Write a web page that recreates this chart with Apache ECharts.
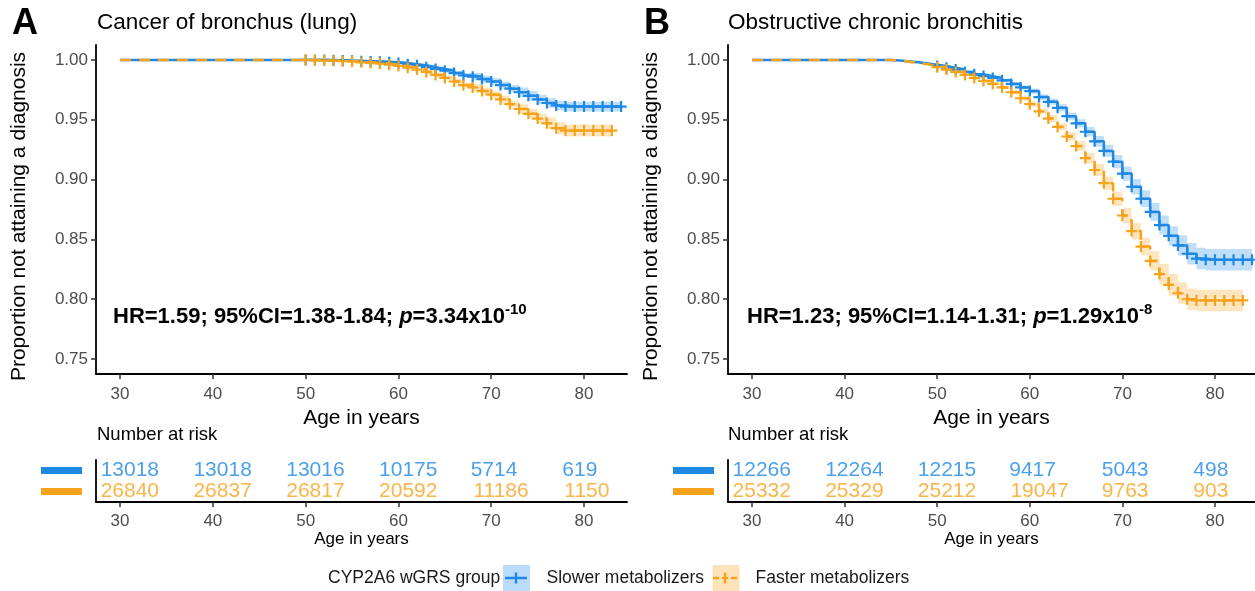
<!DOCTYPE html>
<html>
<head>
<meta charset="utf-8">
<script src="https://cdn.jsdelivr.net/npm/echarts@6/dist/echarts.min.js"></script>
<style>
  html, body { margin: 0; padding: 0; background: #fff; }
  #chart { width: 1255px; height: 591px; }
</style>
</head>
<body>
<div id="chart"></div>
<script>
// ---- data ----
const riskAges = [30, 40, 50, 60, 70, 80];
const riskSlowA = [13018, 13018, 13016, 10175, 5714, 619];
const riskFastA = [26840, 26837, 26817, 20592, 11186, 1150];
const riskSlowB = [12266, 12264, 12215, 9417, 5043, 498];
const riskFastB = [25332, 25329, 25212, 19047, 9763, 903];

// panel A: cancer of bronchus (lung)
const ageSlowA = [30, 50, 51, 52, 53, 54, 55, 56, 57, 58, 59, 60, 61, 62, 63, 64, 65, 66, 67, 68, 69, 70, 71, 72, 73, 74, 75, 76, 77, 78, 79, 80, 81, 82, 83, 84];
const survSlowA = [1, 1, 1, 1, 0.9998, 0.9995, 0.9993, 0.999, 0.9987, 0.9984, 0.998, 0.9975, 0.9965, 0.9955, 0.994, 0.9925, 0.991, 0.989, 0.987, 0.986, 0.984, 0.982, 0.979, 0.976, 0.973, 0.970, 0.967, 0.964, 0.962, 0.961, 0.961, 0.961, 0.961, 0.961, 0.961, 0.961];
const loSlowA = [1, 0.9997, 0.9997, 0.9997, 0.9995, 0.9992, 0.999, 0.9987, 0.9984, 0.9974, 0.997, 0.9965, 0.9955, 0.9945, 0.992, 0.9905, 0.989, 0.987, 0.985, 0.983, 0.981, 0.979, 0.976, 0.973, 0.969, 0.966, 0.963, 0.960, 0.958, 0.957, 0.957, 0.957, 0.957, 0.957, 0.957, 0.957];
const hiSlowA = [1, 1, 1, 1, 1, 0.9998, 0.9996, 0.9993, 0.999, 0.9994, 0.999, 0.9985, 0.9975, 0.9965, 0.996, 0.9945, 0.993, 0.991, 0.989, 0.989, 0.987, 0.985, 0.982, 0.979, 0.977, 0.974, 0.971, 0.968, 0.966, 0.965, 0.965, 0.965, 0.965, 0.965, 0.965, 0.965];

const ageFastA = [30, 50, 51, 52, 53, 54, 55, 56, 57, 58, 59, 60, 61, 62, 63, 64, 65, 66, 67, 68, 69, 70, 71, 72, 73, 74, 75, 76, 77, 78, 79, 80, 81, 82, 83];
const survFastA = [1, 1, 0.9998, 0.9995, 0.9993, 0.999, 0.9987, 0.998, 0.9975, 0.997, 0.996, 0.995, 0.9935, 0.992, 0.990, 0.9875, 0.985, 0.982, 0.979, 0.977, 0.974, 0.971, 0.967, 0.963, 0.959, 0.955, 0.951, 0.947, 0.943, 0.941, 0.941, 0.941, 0.941, 0.941, 0.941];
const loFastA = [1, 0.9997, 0.9995, 0.9992, 0.999, 0.9987, 0.9984, 0.9977, 0.9972, 0.996, 0.995, 0.994, 0.9925, 0.991, 0.988, 0.9855, 0.983, 0.980, 0.977, 0.974, 0.971, 0.968, 0.964, 0.960, 0.955, 0.951, 0.947, 0.942, 0.938, 0.936, 0.936, 0.936, 0.936, 0.936, 0.936];
const hiFastA = [1, 1, 1, 0.9998, 0.9996, 0.9993, 0.999, 0.9983, 0.9978, 0.998, 0.997, 0.996, 0.9945, 0.993, 0.992, 0.9895, 0.987, 0.984, 0.981, 0.980, 0.977, 0.974, 0.970, 0.966, 0.963, 0.959, 0.955, 0.952, 0.948, 0.946, 0.946, 0.946, 0.946, 0.946, 0.946];

// panel B: obstructive chronic bronchitis
const ageSlowB = [30, 44, 45, 46, 47, 48, 49, 50, 51, 52, 53, 54, 55, 56, 57, 58, 59, 60, 61, 62, 63, 64, 65, 66, 67, 68, 69, 70, 71, 72, 73, 74, 75, 76, 77, 78, 79, 80, 81, 82, 83, 84];
const survSlowB = [1, 1, 0.9995, 0.9988, 0.998, 0.997, 0.996, 0.995, 0.9935, 0.992, 0.990, 0.988, 0.9865, 0.985, 0.983, 0.980, 0.977, 0.974, 0.969, 0.965, 0.960, 0.953, 0.947, 0.940, 0.932, 0.924, 0.915, 0.905, 0.894, 0.884, 0.873, 0.862, 0.853, 0.845, 0.838, 0.834, 0.833, 0.833, 0.833, 0.833, 0.833, 0.833];
const loSlowB = [1, 1, 0.9993, 0.9985, 0.9977, 0.9966, 0.9955, 0.9945, 0.993, 0.9913, 0.9892, 0.9871, 0.9855, 0.9838, 0.9817, 0.9785, 0.9753, 0.972, 0.9668, 0.9625, 0.957, 0.950, 0.9435, 0.936, 0.9275, 0.919, 0.9095, 0.899, 0.8875, 0.877, 0.8655, 0.854, 0.845, 0.8365, 0.829, 0.825, 0.824, 0.824, 0.824, 0.824, 0.824, 0.824];
const hiSlowB = [1, 1, 0.9997, 0.9991, 0.9983, 0.9974, 0.9965, 0.9955, 0.994, 0.9927, 0.9908, 0.9889, 0.9875, 0.9862, 0.9843, 0.9815, 0.9787, 0.976, 0.9712, 0.9675, 0.963, 0.956, 0.9505, 0.944, 0.9365, 0.929, 0.9205, 0.911, 0.9005, 0.891, 0.8805, 0.870, 0.861, 0.8535, 0.847, 0.843, 0.842, 0.842, 0.842, 0.842, 0.842, 0.842];

const ageFastB = [30, 44, 45, 46, 47, 48, 49, 50, 51, 52, 53, 54, 55, 56, 57, 58, 59, 60, 61, 62, 63, 64, 65, 66, 67, 68, 69, 70, 71, 72, 73, 74, 75, 76, 77, 78, 79, 80, 81, 82, 83];
const survFastB = [1, 1, 0.9995, 0.9985, 0.9975, 0.9965, 0.995, 0.994, 0.992, 0.990, 0.9875, 0.985, 0.9825, 0.980, 0.977, 0.973, 0.968, 0.963, 0.957, 0.951, 0.944, 0.936, 0.928, 0.918, 0.908, 0.897, 0.884, 0.870, 0.857, 0.844, 0.832, 0.821, 0.812, 0.805, 0.800, 0.799, 0.799, 0.799, 0.799, 0.799, 0.799];
const loFastB = [1, 1, 0.9993, 0.9982, 0.9971, 0.996, 0.9945, 0.9934, 0.9913, 0.9892, 0.9866, 0.984, 0.9814, 0.9787, 0.9755, 0.9713, 0.966, 0.9608, 0.9545, 0.948, 0.941, 0.9325, 0.924, 0.9135, 0.903, 0.8915, 0.878, 0.8635, 0.850, 0.8365, 0.824, 0.8125, 0.803, 0.796, 0.791, 0.790, 0.790, 0.790, 0.790, 0.790, 0.790];
const hiFastB = [1, 1, 0.9997, 0.9988, 0.9979, 0.997, 0.9955, 0.9946, 0.9927, 0.9908, 0.9884, 0.986, 0.9836, 0.9813, 0.9785, 0.9747, 0.970, 0.9652, 0.9595, 0.954, 0.947, 0.9395, 0.932, 0.9225, 0.913, 0.9025, 0.890, 0.8765, 0.864, 0.8515, 0.840, 0.8295, 0.821, 0.814, 0.809, 0.808, 0.808, 0.808, 0.808, 0.808, 0.808];

const xTicks = [30, 40, 50, 60, 70, 80];
const yTicks = [0.75, 0.80, 0.85, 0.90, 0.95, 1.00];

// ---- styling ----
const BLUE = '#1E88E5';
const ORANGE = '#F7A21B';
const BLUE_BAND = 'rgba(30,136,229,0.28)';
const ORANGE_BAND = 'rgba(247,162,27,0.28)';
const FONT = 'Liberation Sans, Arial, sans-serif';
const PLUS = 'path://M4,0H6V4H10V6H6V10H4V6H0V4H4Z';

const chart = echarts.init(document.getElementById('chart'), null, { renderer: 'canvas' });

function mainXAxis(gi, max) {
  return {
    gridIndex: gi, type: 'value', min: 27.41, max: max,
    name: 'Age in years', nameLocation: 'middle', nameGap: 26,
    nameTextStyle: { fontSize: 21, color: '#000', fontFamily: FONT },
    axisLine: { onZero: false, lineStyle: { color: '#000', width: 1.8 } },
    axisTick: { length: 5, customValues: xTicks, lineStyle: { color: '#333', width: 1.5 } },
    axisLabel: { customValues: xTicks, margin: 12, fontSize: 17, color: '#4D4D4D', fontFamily: FONT },
    splitLine: { show: false }
  };
}
function mainYAxis(gi) {
  return {
    gridIndex: gi, type: 'value', min: 0.7375, max: 1.0125,
    name: 'Proportion not attaining a diagnosis', nameLocation: 'middle', nameGap: 66,
    nameTextStyle: { fontSize: 21, color: '#000', fontFamily: FONT, padding: [0, 14, 0, 0] },
    axisLine: { show: true, onZero: false, lineStyle: { color: '#000', width: 1.8 } },
    axisTick: { show: true, length: 5, customValues: yTicks, lineStyle: { color: '#333', width: 1.5 } },
    axisLabel: { customValues: yTicks, margin: 8, fontSize: 17, color: '#4D4D4D', fontFamily: FONT,
      formatter: v => v.toFixed(2) },
    splitLine: { show: false }
  };
}
function tableXAxis(gi, max) {
  return {
    gridIndex: gi, type: 'value', min: 27.41, max: max, position: 'bottom',
    name: 'Age in years', nameLocation: 'middle', nameGap: 29,
    nameTextStyle: { fontSize: 17, color: '#000', fontFamily: FONT },
    axisLine: { show: true, onZero: false, lineStyle: { color: '#000', width: 1.8 } },
    axisTick: { show: true, length: 5, customValues: xTicks, lineStyle: { color: '#333', width: 1.5 } },
    axisLabel: { customValues: xTicks, margin: 11, fontSize: 17, color: '#4D4D4D', fontFamily: FONT },
    splitLine: { show: false }
  };
}
function tableYAxis(gi) {
  return {
    gridIndex: gi, type: 'category', inverse: true, data: ['slow', 'fast'],
    axisLine: { show: true, onZero: false, lineStyle: { color: '#000', width: 1.8 } },
    axisTick: { show: false },
    axisLabel: {
      margin: 14,
      formatter: v => v === 'slow' ? '{s| }' : '{f| }',
      rich: {
        s: { backgroundColor: BLUE, width: 41, height: 7 },
        f: { backgroundColor: ORANGE, width: 41, height: 7 }
      }
    },
    splitLine: { show: false }
  };
}

// confidence band: one stepped polygon built through the axis scales
function bandSeries(gi, ages, lo, hi, color) {
  return {
    type: 'custom', xAxisIndex: gi, yAxisIndex: gi, silent: true, z: 1, clip: true,
    data: ages.map((a, i) => [a, lo[i], hi[i]]),
    encode: { x: 0, y: [1, 2] },
    renderItem: function (params, api) {
      if (params.dataIndex !== 0) return;
      const n = ages.length;
      const pts = [];
      for (let i = 0; i < n; i++) {
        pts.push(api.coord([ages[i], hi[i]]));
        if (i < n - 1) pts.push(api.coord([ages[i + 1], hi[i]]));
      }
      for (let i = n - 1; i >= 0; i--) {
        if (i < n - 1) pts.push(api.coord([ages[i + 1], lo[i]]));
        pts.push(api.coord([ages[i], lo[i]]));
      }
      return { type: 'polygon', shape: { points: pts }, style: { fill: color } };
    }
  };
}
function kmSeries(name, gi, ages, surv, color, dashed) {
  return {
    name: name, type: 'line', xAxisIndex: gi, yAxisIndex: gi, step: 'end',
    data: ages.map((a, i) => [a, surv[i]]),
    symbol: v => (v[0] >= 50 ? PLUS : 'none'), symbolSize: 11,
    itemStyle: { color: color },
    lineStyle: { color: color, width: 2.5, type: dashed ? [11, 8] : 'solid' },
    z: dashed ? 4 : 3
  };
}
function riskSeries(gi, counts, row, color) {
  return {
    type: 'scatter', xAxisIndex: gi, yAxisIndex: gi,
    data: riskAges.map((a, i) => ({
      value: [a, row, counts[i]],
      label: { offset: [(String(counts[i]).length - 3.6) * 7, 0] }
    })),
    symbolSize: 1, itemStyle: { color: 'rgba(0,0,0,0)' },
    label: { show: true, position: 'inside', formatter: p => String(p.value[2]),
      fontSize: 21, color: color, fontFamily: FONT }
  };
}

function hrText(hr, ci, p, exp) {
  return '{b|HR=' + hr + '; 95%CI=' + ci + '; }{i|p}{b|=' + p + 'x10}{s|' + exp + '}';
}
const hrRich = {
  b: { fontSize: 22, fontWeight: 'bold', color: '#000', fontFamily: FONT },
  i: { fontSize: 22, fontWeight: 'bold', fontStyle: 'italic', color: '#000', fontFamily: FONT },
  s: { fontSize: 15, fontWeight: 'bold', color: '#000', fontFamily: FONT, padding: [0, 0, 15, 0] }
};

const plusKey = 'path://M0,0h0.01v0.01h-0.01Z M26,26h-0.01v-0.01h0.01Z M2,11.8H24V14.2H2Z M11.8,7.5H14.2V18.5H11.8Z';
const dashKey = 'path://M0,0h0.01v0.01h-0.01Z M26,26h-0.01v-0.01h0.01Z M1,11.8H7V14.2H1Z M10,11.8H16V14.2H10Z M19,11.8H25V14.2H19Z M11.8,7.5H14.2V18.5H11.8Z';

const legendBase = {
  left: 503, top: 565, padding: 0, itemWidth: 27, itemHeight: 26, itemGap: 8,
  selectedMode: false, orient: 'horizontal'
};

const option = {
  animation: false,
  backgroundColor: '#fff',
  textStyle: { fontFamily: FONT },
  title: [
    { text: 'A', left: 12, top: 6, padding: 0, textStyle: { fontSize: 36, fontWeight: 'bold', color: '#000', fontFamily: FONT } },
    { text: 'Cancer of bronchus (lung)', left: 97, top: 11, padding: 0, textStyle: { fontSize: 22.5, fontWeight: 'normal', color: '#000', fontFamily: FONT } },
    { text: 'B', left: 644, top: 6, padding: 0, textStyle: { fontSize: 36, fontWeight: 'bold', color: '#000', fontFamily: FONT } },
    { text: 'Obstructive chronic bronchitis', left: 728, top: 11, padding: 0, textStyle: { fontSize: 22.5, fontWeight: 'normal', color: '#000', fontFamily: FONT } },
    { text: hrText('1.59', '1.38-1.84', '3.34', '-10'), left: 113, top: 302, padding: 0, textStyle: { rich: hrRich } },
    { text: hrText('1.23', '1.14-1.31', '1.29', '-8'), left: 747, top: 302, padding: 0, textStyle: { rich: hrRich } },
    { text: 'Number at risk', left: 97, top: 425, padding: 0, textStyle: { fontSize: 18.5, fontWeight: 'normal', color: '#000', fontFamily: FONT } },
    { text: 'Number at risk', left: 728, top: 425, padding: 0, textStyle: { fontSize: 18.5, fontWeight: 'normal', color: '#000', fontFamily: FONT } },
    { text: 'CYP2A6 wGRS group', left: 328, top: 569, padding: 0, textStyle: { fontSize: 17.5, fontWeight: 'normal', color: '#1a1a1a', fontFamily: FONT } }
  ],
  legend: [
    Object.assign({}, legendBase, {
      data: [
        { name: 'Slower metabolizers', icon: 'rect', itemStyle: { color: '#BBDCF8', borderWidth: 0 } },
        { name: 'Faster metabolizers', icon: 'rect', itemStyle: { color: '#FCE3BA', borderWidth: 0 } }
      ],
      textStyle: { fontSize: 17.5, color: 'rgba(0,0,0,0)', fontFamily: FONT, padding: [0, 0, 0, 12] }
    }),
    Object.assign({}, legendBase, {
      data: [
        { name: 'Slower metabolizers', icon: plusKey, itemStyle: { color: BLUE, borderWidth: 0 } },
        { name: 'Faster metabolizers', icon: dashKey, itemStyle: { color: ORANGE, borderWidth: 0 } }
      ],
      textStyle: { fontSize: 17.5, color: '#1a1a1a', fontFamily: FONT, padding: [0, 0, 0, 12] }
    })
  ],
  grid: [
    { left: 96, top: 45, width: 531, height: 329 },
    { left: 728, top: 45, width: 527, height: 329 },
    { left: 96, top: 460, width: 531, height: 42 },
    { left: 728, top: 460, width: 527, height: 42 }
  ],
  xAxis: [mainXAxis(0, 84.63), mainXAxis(1, 84.32), tableXAxis(2, 84.63), tableXAxis(3, 84.32)],
  yAxis: [mainYAxis(0), mainYAxis(1), tableYAxis(2), tableYAxis(3)],
  series: [
    bandSeries(0, ageSlowA, loSlowA, hiSlowA, BLUE_BAND),
    bandSeries(0, ageFastA, loFastA, hiFastA, ORANGE_BAND),
    bandSeries(1, ageSlowB, loSlowB, hiSlowB, BLUE_BAND),
    bandSeries(1, ageFastB, loFastB, hiFastB, ORANGE_BAND),
    kmSeries('Slower metabolizers', 0, ageSlowA, survSlowA, BLUE, false),
    kmSeries('Faster metabolizers', 0, ageFastA, survFastA, ORANGE, true),
    kmSeries('Slower metabolizers', 1, ageSlowB, survSlowB, BLUE, false),
    kmSeries('Faster metabolizers', 1, ageFastB, survFastB, ORANGE, true),
    riskSeries(2, riskSlowA, 0, BLUE),
    riskSeries(2, riskFastA, 1, ORANGE),
    riskSeries(3, riskSlowB, 0, BLUE),
    riskSeries(3, riskFastB, 1, ORANGE)
  ]
};

chart.setOption(option);
</script>
</body>
</html>
